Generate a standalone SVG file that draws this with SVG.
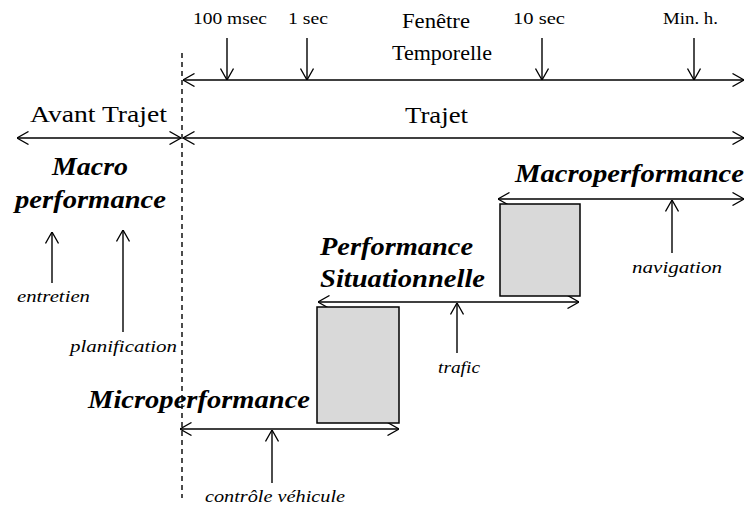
<svg xmlns="http://www.w3.org/2000/svg" width="745" height="506" viewBox="0 0 745 506">
<defs>
<marker id="ah" viewBox="0 0 12 14" refX="12" refY="7" markerWidth="12" markerHeight="14" markerUnits="userSpaceOnUse" orient="auto-start-reverse">
<path d="M0.5,0.5 L12,7 L0.5,13.5" fill="none" stroke="#000" stroke-width="1.3"/>
</marker>
</defs>
<style>
.ln{stroke:#000;stroke-width:1.4;fill:none}
.dbl{marker-start:url(#ah);marker-end:url(#ah)}
.one{marker-end:url(#ah)}
.t{font-family:"Liberation Serif","Times New Roman",serif;fill:#000}
.top{font-size:16.5px}
.mid{font-size:21px}
.big{font-size:23px}
.bi{font-size:25px;font-weight:bold;font-style:italic}
.it{font-size:16px;font-style:italic}
.box{fill:#d9d9d9;stroke:#000;stroke-width:1.5}
</style>
<rect width="745" height="506" fill="#fff"/>
<g id="connectors">
<line class="ln" x1="182" y1="53" x2="182" y2="498" stroke-dasharray="5,4"/>
<line class="ln dbl" x1="183" y1="80" x2="744" y2="80"/>
<line class="ln one" x1="227" y1="38" x2="227" y2="80"/>
<line class="ln one" x1="307" y1="38" x2="307" y2="80"/>
<line class="ln one" x1="542" y1="38" x2="542" y2="80"/>
<line class="ln one" x1="694" y1="38" x2="694" y2="80"/>
<line class="ln dbl" x1="17" y1="138" x2="181" y2="138"/>
<line class="ln dbl" x1="183" y1="138" x2="744" y2="138"/>
<line class="ln one" x1="52" y1="283" x2="52" y2="232"/>
<line class="ln one" x1="123" y1="332" x2="123" y2="230"/>
<line class="ln dbl" x1="180" y1="429" x2="399" y2="429"/>
<line class="ln one" x1="272" y1="483" x2="272" y2="430"/>
<line class="ln dbl" x1="318" y1="302" x2="579" y2="302"/>
<line class="ln one" x1="457" y1="353" x2="457" y2="303"/>
<line class="ln dbl" x1="498" y1="199" x2="744" y2="199"/>
<line class="ln one" x1="672" y1="253" x2="672" y2="200"/>
</g>
<g id="timeline">
<text class="t top" x="193" y="24" textLength="74" lengthAdjust="spacingAndGlyphs">100 msec</text>
<text class="t top" x="288" y="24" textLength="40" lengthAdjust="spacingAndGlyphs">1 sec</text>
<text class="t mid" x="402" y="28" textLength="68" lengthAdjust="spacingAndGlyphs">Fenêtre</text>
<text class="t mid" x="392" y="60" textLength="100" lengthAdjust="spacingAndGlyphs">Temporelle</text>
<text class="t top" x="513" y="24" textLength="52" lengthAdjust="spacingAndGlyphs">10 sec</text>
<text class="t top" x="663" y="24" textLength="55" lengthAdjust="spacingAndGlyphs">Min. h.</text>
</g>
<g id="avant-trajet">
<text class="t big" x="30" y="122" textLength="137" lengthAdjust="spacingAndGlyphs">Avant Trajet</text>
</g>
<g id="trajet">
<text class="t big" x="405" y="123" textLength="63" lengthAdjust="spacingAndGlyphs">Trajet</text>
</g>
<g id="macro-performance">
<text class="t bi" x="52" y="175" textLength="76" lengthAdjust="spacingAndGlyphs">Macro</text>
<text class="t bi" x="15" y="208" textLength="151" lengthAdjust="spacingAndGlyphs">performance</text>
</g>
<g id="entretien">
<text class="t it" x="17" y="302" textLength="73" lengthAdjust="spacingAndGlyphs">entretien</text>
</g>
<g id="planification">
<text class="t it" x="70" y="352" textLength="107" lengthAdjust="spacingAndGlyphs">planification</text>
</g>
<g id="microperformance">
<rect class="box" x="317" y="307" width="82" height="116"/>
<text class="t bi" x="88" y="408" textLength="222" lengthAdjust="spacingAndGlyphs">Microperformance</text>
</g>
<g id="controle-vehicule">
<text class="t it" x="205" y="502" textLength="140" lengthAdjust="spacingAndGlyphs">contrôle véhicule</text>
</g>
<g id="performance-situationnelle">
<rect class="box" x="500" y="204" width="80" height="92"/>
<text class="t bi" x="320" y="255" textLength="153" lengthAdjust="spacingAndGlyphs">Performance</text>
<text class="t bi" x="320" y="287" textLength="165" lengthAdjust="spacingAndGlyphs">Situationnelle</text>
</g>
<g id="trafic">
<text class="t it" x="438" y="373" textLength="42" lengthAdjust="spacingAndGlyphs">trafic</text>
</g>
<g id="macroperformance">
<text class="t bi" x="515" y="182" textLength="229" lengthAdjust="spacingAndGlyphs">Macroperformance</text>
</g>
<g id="navigation">
<text class="t it" x="632" y="273" textLength="90" lengthAdjust="spacingAndGlyphs">navigation</text>
</g>
</svg>
